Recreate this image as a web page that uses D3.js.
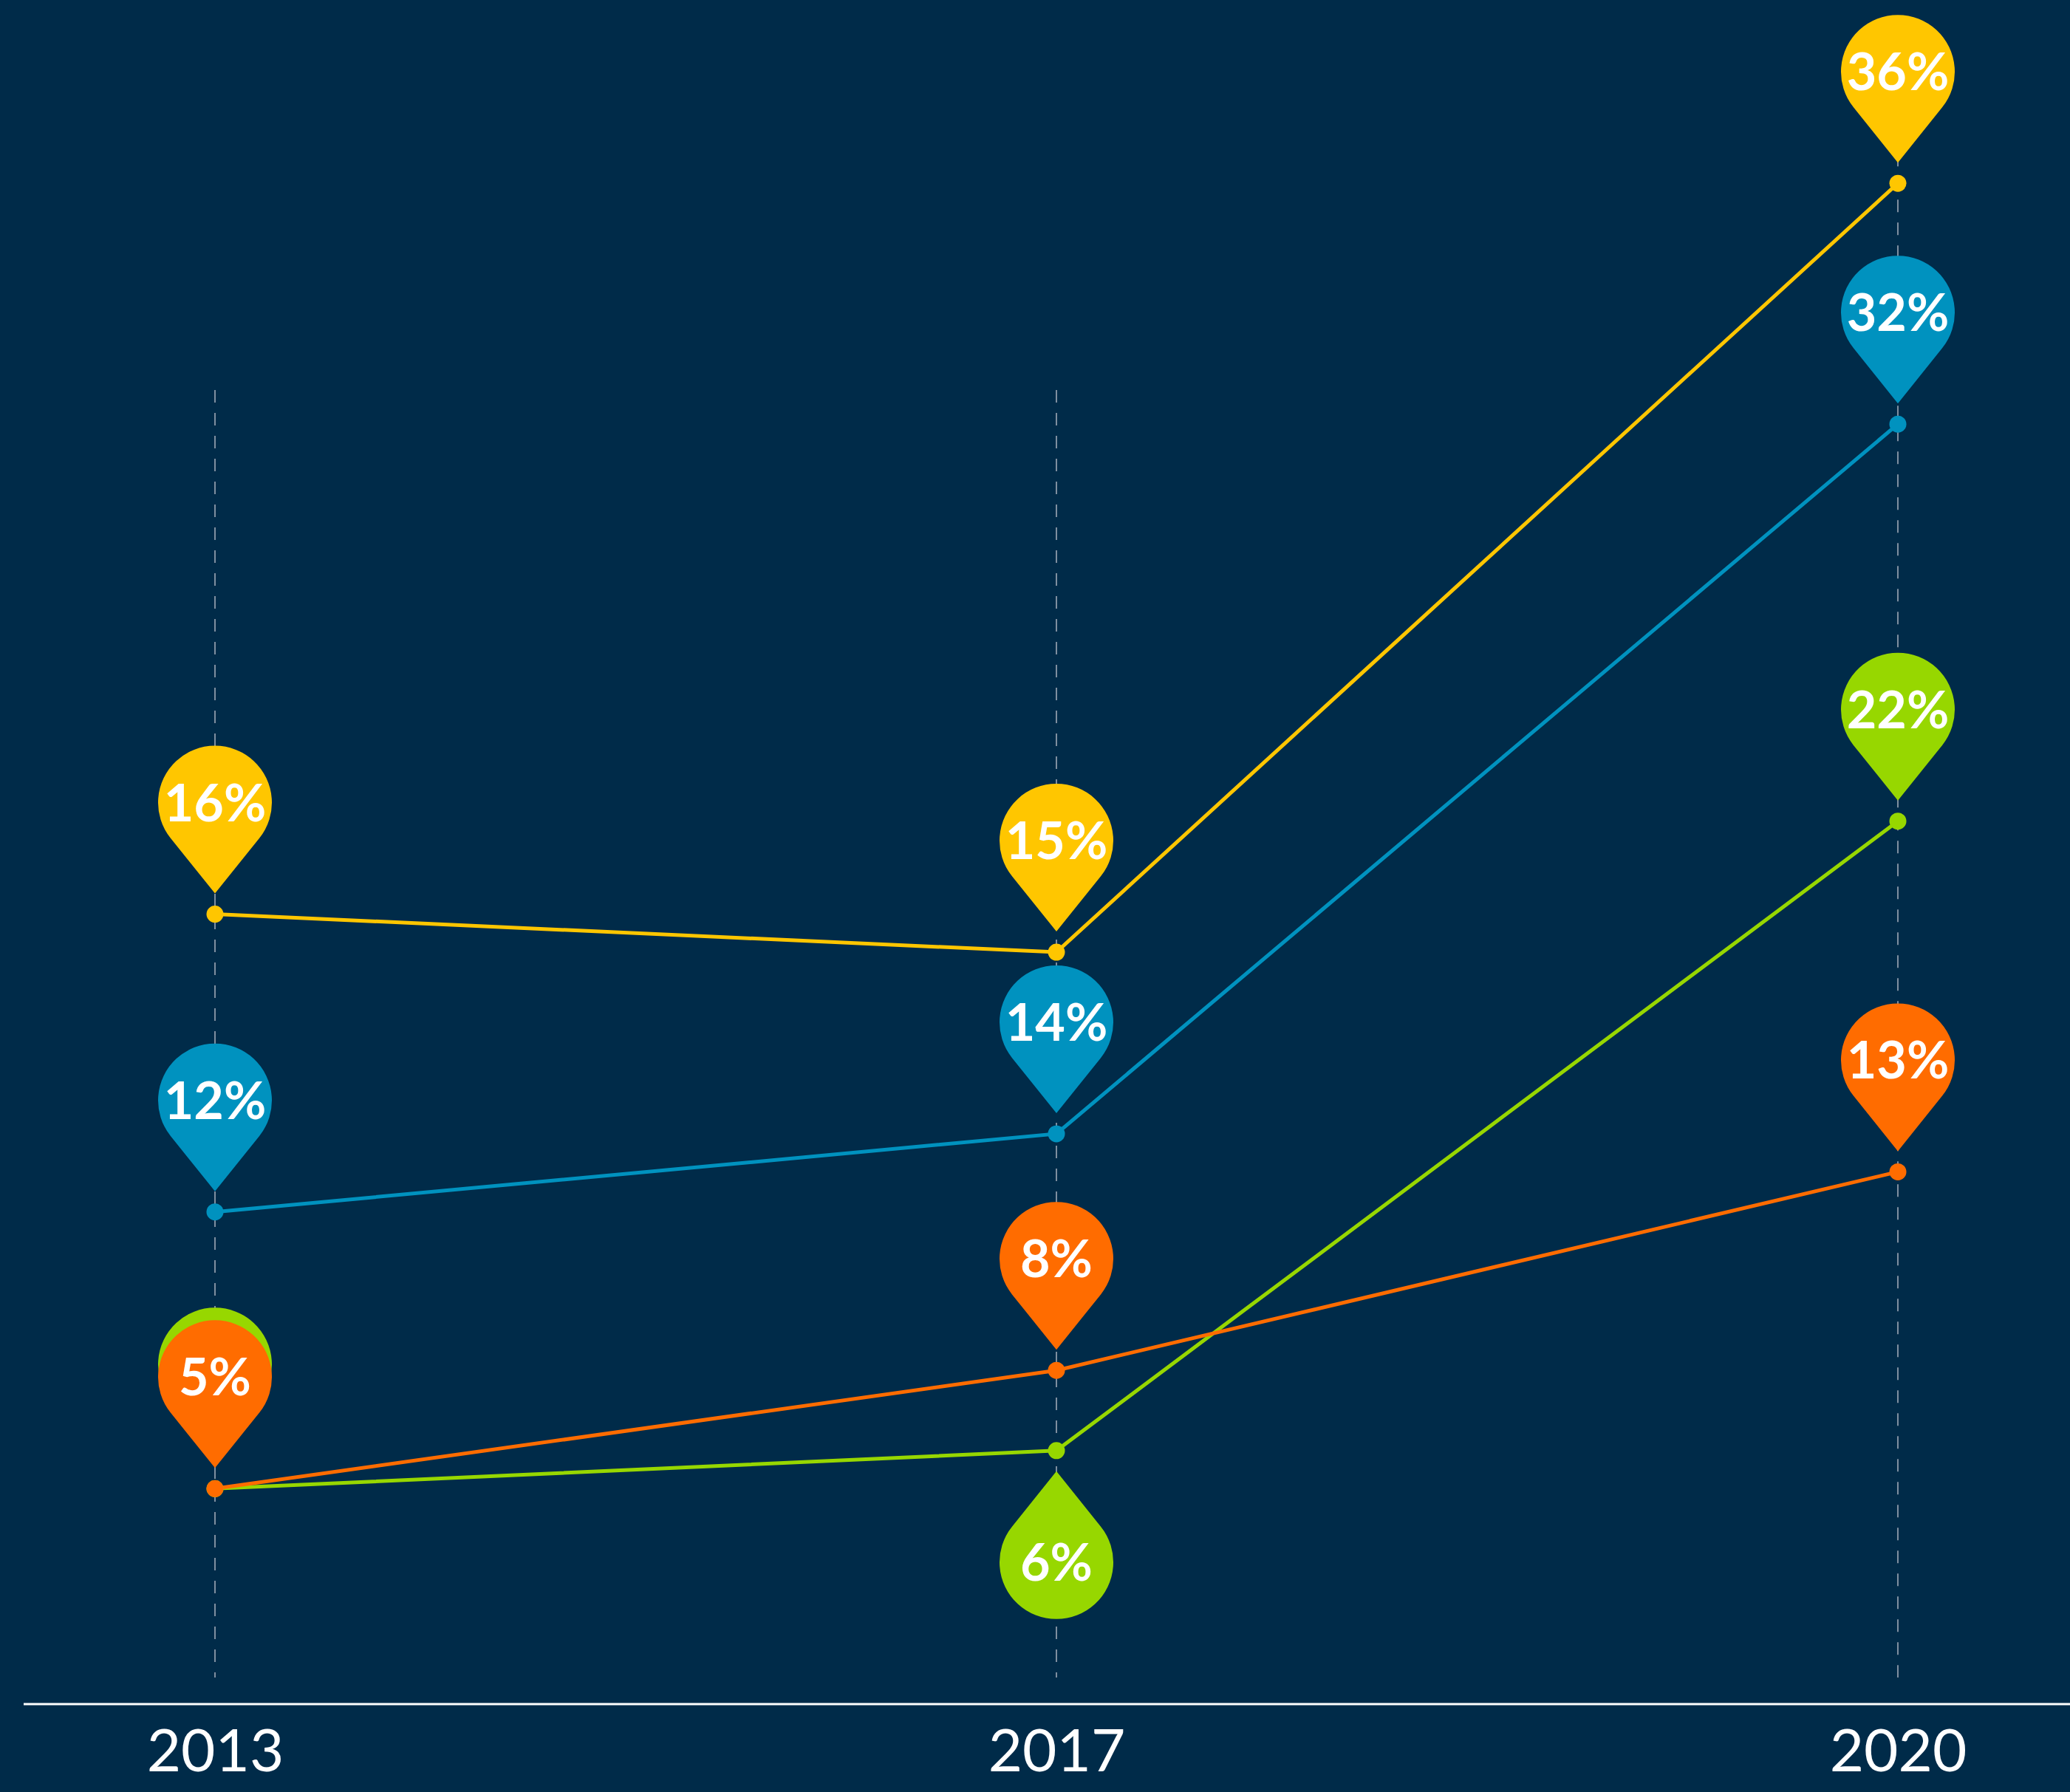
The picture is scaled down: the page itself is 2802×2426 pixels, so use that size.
<!DOCTYPE html>
<html>
<head>
<meta charset="utf-8">
<script src="https://cdn.jsdelivr.net/npm/d3@7"></script>
<style>
  html, body { margin: 0; padding: 0; background: #002B49; }
  svg { display: block; }
</style>
</head>
<body>
<svg id="chart"></svg>
<script>
// years on the x axis
let years = ["2013", "2017", "2020"];

// plotted level of each point
let yellowLevels = [18.7, 17.8, 36.0];
let blueLevels   = [11.65, 13.5, 30.3];
let greenLevels  = [5.1, 6.0, 20.9];
let orangeLevels = [5.1, 7.9, 12.6];

// text shown on the pins
let yellowLabels = ["16%", "15%", "36%"];
let blueLabels   = ["12%", "14%", "32%"];
let greenLabels  = ["5%", "6%", "22%"];
let orangeLabels = ["5%", "8%", "13%"];

let series = [
    {name: "yellow", color: "#FFC600", levels: yellowLevels, labels: yellowLabels},
    {name: "blue",   color: "#0092BF", levels: blueLevels,   labels: blueLabels},
    {name: "green",  color: "#97D700", levels: greenLevels,  labels: greenLabels},
    {name: "orange", color: "#FF6C00", levels: orangeLevels, labels: orangeLabels}
];

// pins that sit below their point, and small nudges to stop overlaps
let pinBelow = {"green-2017": true};
let pinNudge = {"green-2013": -17};

function createChart() {
    let w = 2802;
    let h = 2426;
    let baseY = 2307;

    let svg = d3.select('#chart')
        .attr('width', w)
        .attr('height', h);

    svg.append('rect')
        .attr('width', w)
        .attr('height', h)
        .attr('fill', '#002B49');

    // x scale, evenly spaced years
    let xScale = d3.scalePoint()
        .domain(years)
        .range([291, 2569]);

    // y scale
    let yScale = d3.scaleLinear()
        .domain([0, 40])
        .range([baseY, baseY - 40 * 57.19]);

    // dashed guides for each year
    let guideTop = 528;
    let guideBottom = 2271;
    years.forEach((yr, i) => {
        let topDot = d3.min(series, s => yScale(s.levels[i]));
        svg.append('line')
            .attr('x1', xScale(yr))
            .attr('x2', xScale(yr))
            .attr('y1', Math.min(guideTop, topDot - 40))
            .attr('y2', guideBottom)
            .attr('stroke', '#7F8FA0')
            .attr('stroke-width', 2)
            .style('stroke-dasharray', '17,14');
    });

    // axis baseline
    svg.append('line')
        .attr('x1', 32)
        .attr('x2', w)
        .attr('y1', baseY)
        .attr('y2', baseY)
        .attr('stroke', '#FFFFFF')
        .attr('stroke-width', 3);

    // year labels
    let xAxis = d3.axisBottom(xScale)
        .tickSize(0)
        .tickPadding(34);
    let xAxisGroup = svg.append('g')
        .attr('transform', `translate(0, ${baseY})`)
        .call(xAxis);
    xAxisGroup.select('.domain').remove();
    xAxisGroup.selectAll('text')
        .attr('fill', '#FFFFFF')
        .attr('font-family', 'Lato, sans-serif')
        .attr('font-size', '80px');

    // lines
    let line = d3.line()
        .x((d, i) => xScale(years[i]))
        .y(d => yScale(d));

    series.forEach(s => {
        svg.append('path')
            .datum(s.levels)
            .attr('d', line)
            .attr('fill', 'none')
            .attr('stroke', s.color)
            .attr('stroke-width', 5);
    });

    // dots
    series.forEach(s => {
        svg.selectAll('.dot-' + s.name)
            .data(s.levels)
            .enter()
            .append('circle')
            .attr('cx', (d, i) => xScale(years[i]))
            .attr('cy', d => yScale(d))
            .attr('r', 11.5)
            .attr('fill', s.color);
    });

    // pin marker: circle of radius r, tip at distance tipDist below centre
    let r = 77;
    let tipDist = 123;
    let gap = 28;
    let ang = Math.acos(r / tipDist);
    let tx = r * Math.sin(ang);
    let ty = r * Math.cos(ang);
    let pinPath = `M0,${tipDist} L${tx},${ty} A${r},${r} 0 1 0 ${-tx},${ty} Z`;

    series.forEach(s => {
        s.levels.forEach((v, i) => {
            let key = s.name + '-' + years[i];
            let below = pinBelow[key] === true;
            let nudge = pinNudge[key] || 0;
            let px = xScale(years[i]);
            let py = yScale(v);
            let cy = below ? py + gap + tipDist : py - gap - tipDist + nudge;

            let g = svg.append('g')
                .attr('transform', `translate(${px}, ${cy})`);
            g.append('path')
                .attr('d', pinPath)
                .attr('transform', below ? 'scale(1,-1)' : null)
                .attr('fill', s.color);
            g.append('text')
                .attr('x', 0)
                .attr('y', 25)
                .attr('text-anchor', 'middle')
                .attr('font-family', 'Lato, sans-serif')
                .attr('font-weight', 'bold')
                .attr('font-size', '70px')
                .attr('fill', '#FFFFFF')
                .text(s.labels[i]);
        });
    });
}

window.onload = function() {
    createChart();
}
</script>
</body>
</html>
